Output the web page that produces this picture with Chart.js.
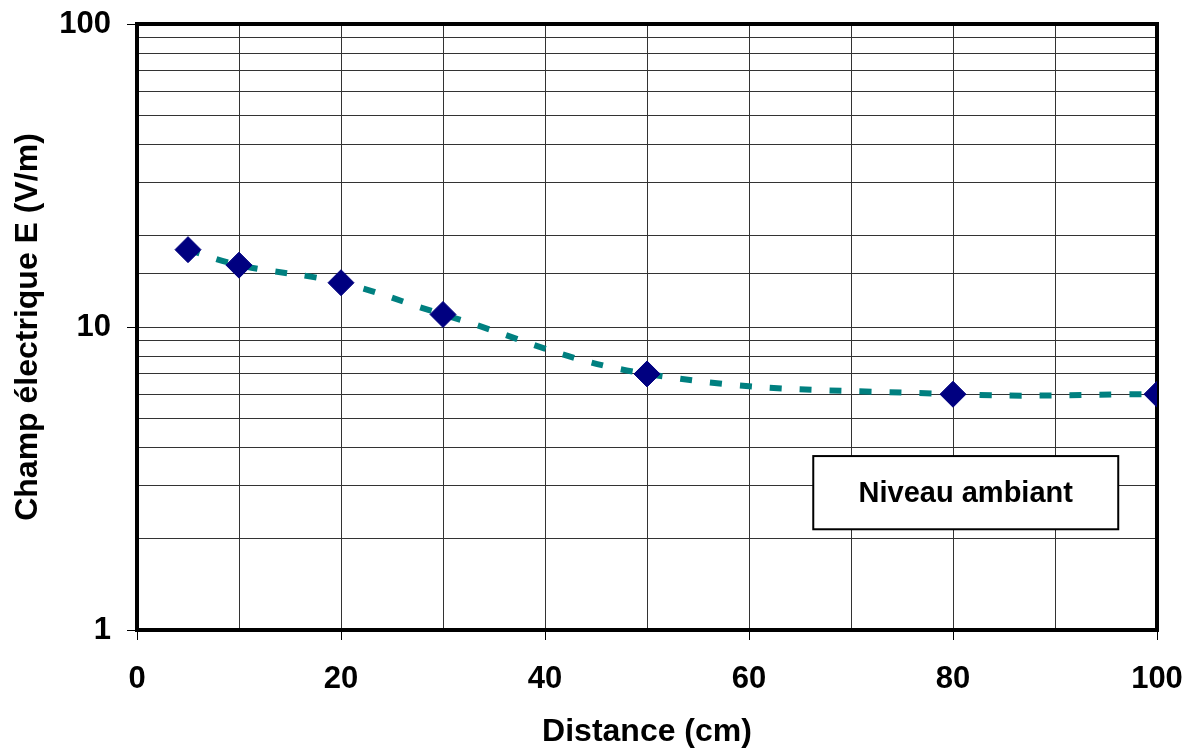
<!DOCTYPE html>
<html>
<head>
<meta charset="utf-8">
<script src="https://cdn.jsdelivr.net/npm/chart.js@4.4.1/dist/chart.umd.min.js"></script>
<style>
  html, body { margin: 0; padding: 0; background: #fff; }
  canvas { display: block; }
</style>
</head>
<body>
<canvas id="chart" width="1193" height="751"></canvas>
<script>
const distances = [5, 10, 20, 30, 50, 80, 100];
const fieldValues = [18, 16, 14, 11, 7, 6, 6];
const yLabelTicks = [1, 10, 100];
const boxLabel = 'Niveau ambiant';

const FONT = '"Liberation Sans", Arial, sans-serif';

const framePlugin = {
  id: 'frame',
  beforeDatasetsDraw(chart) {
    const { ctx, chartArea: a } = chart;
    ctx.save();
    ctx.strokeStyle = '#000';
    ctx.lineWidth = 4;
    ctx.strokeRect(a.left, a.top, a.right - a.left, a.bottom - a.top);
    ctx.restore();
  },
  afterDatasetsDraw(chart) {
    const { ctx, scales: { x, y } } = chart;
    const l = x.getPixelForValue(66.3), r = x.getPixelForValue(96.2);
    const t = y.getPixelForValue(3.75), b = y.getPixelForValue(2.15);
    ctx.save();
    ctx.fillStyle = '#fff';
    ctx.fillRect(l, t, r - l, b - t);
    ctx.strokeStyle = '#000';
    ctx.lineWidth = 2;
    ctx.strokeRect(l, t, r - l, b - t);
    ctx.fillStyle = '#000';
    ctx.font = 'bold 29px ' + FONT;
    ctx.textAlign = 'center';
    ctx.textBaseline = 'middle';
    ctx.fillText(boxLabel, (l + r) / 2, (t + b) / 2 + 1);
    ctx.restore();
  }
};

new Chart(document.getElementById('chart'), {
  type: 'line',
  data: {
    datasets: [{
      data: distances.map((d, i) => ({ x: d, y: fieldValues[i] })),
      borderColor: '#008080',
      borderWidth: 6,
      borderDash: [12, 18],
      tension: 0.4,
      pointStyle: 'rectRot',
      pointRadius: 13,
      pointBackgroundColor: '#000080',
      pointBorderColor: '#000080',
      pointBorderWidth: 1,
      fill: false
    }]
  },
  options: {
    responsive: false,
    animation: false,
    layout: { padding: { left: 0, top: 24, right: 36, bottom: 0 } },
    plugins: { legend: { display: false }, tooltip: { enabled: false } },
    scales: {
      x: {
        type: 'linear',
        min: 0,
        max: 100,
        afterFit: s => { s.height = 121; s.paddingLeft = 0; s.paddingRight = 0; },
        border: { display: false },
        grid: {
          color: '#333',
          lineWidth: 1,
          tickLength: 10,
          tickColor: c => (c.tick && c.tick.value % 20 === 0 ? '#000' : 'rgba(0,0,0,0)')
        },
        ticks: {
          stepSize: 10,
          autoSkip: false,
          maxRotation: 0,
          padding: 21,
          color: '#000',
          font: { family: FONT, size: 31, weight: 'bold' },
          callback: v => (v % 20 === 0 ? String(v) : '')
        },
        title: {
          display: true,
          text: 'Distance (cm)',
          color: '#000',
          padding: { top: 0, bottom: 0 },
          font: { family: FONT, size: 32, weight: 'bold' }
        }
      },
      y: {
        type: 'logarithmic',
        min: 1,
        max: 100,
        afterFit: s => { s.width = 137; s.paddingTop = 0; s.paddingBottom = 0; },
        border: { display: false },
        grid: {
          color: '#333',
          lineWidth: 1,
          tickLength: 10,
          tickColor: c => (c.tick && yLabelTicks.includes(c.tick.value) ? '#000' : 'rgba(0,0,0,0)')
        },
        ticks: {
          autoSkip: false,
          padding: 16,
          color: '#000',
          font: { family: FONT, size: 31, weight: 'bold' },
          callback: v => (yLabelTicks.includes(v) ? String(v) : '')
        },
        title: {
          display: true,
          text: 'Champ électrique E (V/m)',
          color: '#000',
          padding: { top: 9, bottom: 0 },
          font: { family: FONT, size: 32, weight: 'bold' }
        }
      }
    }
  },
  plugins: [framePlugin]
});
</script>
</body>
</html>
